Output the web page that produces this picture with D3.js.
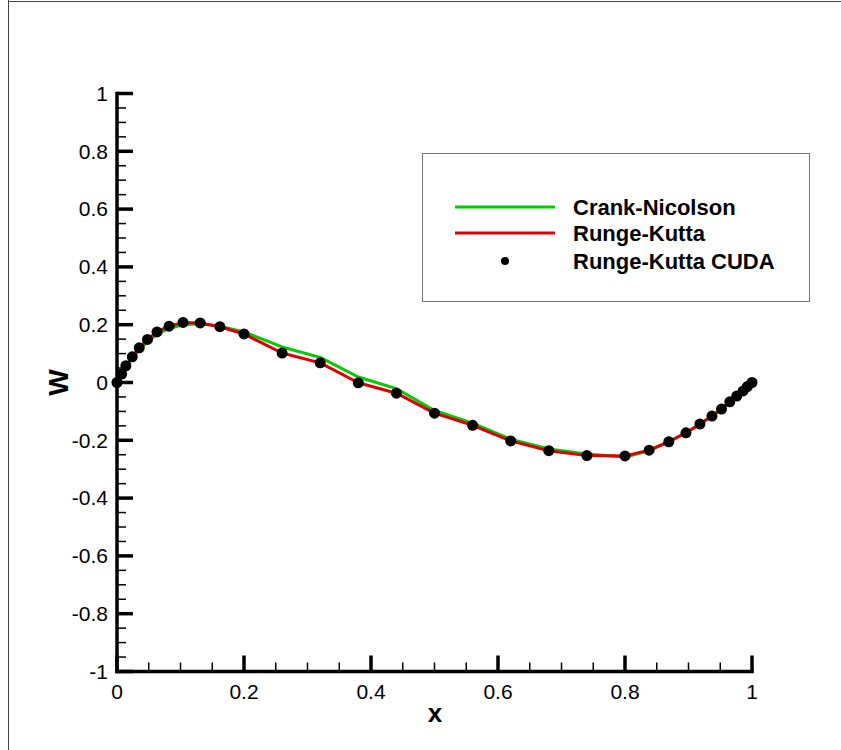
<!DOCTYPE html>
<html>
<head>
<meta charset="utf-8">
<script src="https://cdn.jsdelivr.net/npm/d3@7/dist/d3.min.js"></script>
<style>
  html, body { margin: 0; padding: 0; background: #fff; }
  svg { display: block; }
</style>
</head>
<body>
<svg id="chart" width="841" height="750"></svg>
<script>
// Grid is stretched toward both walls; W.
const xs = [0, 0.0074, 0.014, 0.024, 0.035, 0.048, 0.063, 0.082, 0.104, 0.131, 0.162,
            0.2, 0.26, 0.32, 0.38, 0.44, 0.5, 0.56, 0.62, 0.68, 0.74, 0.8,
            0.838, 0.869, 0.896, 0.918, 0.937, 0.952, 0.965, 0.976, 0.986, 0.9926, 1];

const crankNicolson = [0, 0.027, 0.054, 0.084, 0.113, 0.141, 0.167, 0.187, 0.200, 0.203, 0.195,
                       0.175, 0.123, 0.087, 0.019, -0.021, -0.097, -0.141, -0.196, -0.230, -0.247, -0.258,
                       -0.236, -0.205, -0.174, -0.144, -0.116, -0.092, -0.067, -0.047, -0.029, -0.014, 0];

const rungeKutta = [0, 0.029, 0.058, 0.089, 0.120, 0.149, 0.175, 0.195, 0.208, 0.206, 0.193,
                    0.168, 0.102, 0.068, -0.001, -0.037, -0.106, -0.148, -0.202, -0.236, -0.253, -0.254,
                    -0.234, -0.205, -0.174, -0.144, -0.116, -0.092, -0.067, -0.047, -0.029, -0.014, 0];

const rungeKuttaCuda = [0, 0.029, 0.058, 0.089, 0.120, 0.149, 0.175, 0.195, 0.208, 0.206, 0.193,
                        0.168, 0.102, 0.068, -0.001, -0.037, -0.106, -0.148, -0.202, -0.236, -0.253, -0.254,
                        -0.234, -0.205, -0.174, -0.144, -0.116, -0.092, -0.067, -0.047, -0.029, -0.014, 0];

const xTicks = [0, 0.2, 0.4, 0.6, 0.8, 1];
const yTicks = [-1, -0.8, -0.6, -0.4, -0.2, 0, 0.2, 0.4, 0.6, 0.8, 1];

const legendItems = [
  { label: "Crank-Nicolson",    kind: "line", color: "#00cc00" },
  { label: "Runge-Kutta",       kind: "line", color: "#dd0000" },
  { label: "Runge-Kutta CUDA",  kind: "dot",  color: "#000" },
];

const FONT = "Liberation Sans, Arial, Helvetica, sans-serif";
const svg = d3.select("#chart");

const plotL = 117, plotR = 752, plotT = 93.5, plotB = 671.5;
const x = d3.scaleLinear().domain([0, 1]).range([plotL, plotR]);
const y = d3.scaleLinear().domain([-1, 1]).range([plotB, plotT]);

// frame round the figure
svg.append("line").attr("x1", 8.5).attr("x2", 8.5).attr("y1", 0).attr("y2", 750)
  .attr("stroke", "#444").attr("stroke-width", 1);
svg.append("line").attr("x1", 8).attr("x2", 841).attr("y1", 1.5).attr("y2", 1.5)
  .attr("stroke", "#444").attr("stroke-width", 1);

// ticks, pointing into the plot
const minorX = d3.range(0, 1.0001, 0.05);
const minorY = d3.range(-1, 1.0001, 0.05);

const tickG = svg.append("g").attr("stroke", "#000");
tickG.append("g").selectAll("line").data(minorX).join("line")
  .attr("x1", d => x(d)).attr("x2", d => x(d))
  .attr("y1", plotB).attr("y2", plotB - 9).attr("stroke-width", 1.5);
tickG.append("g").selectAll("line").data(xTicks).join("line")
  .attr("x1", d => x(d)).attr("x2", d => x(d))
  .attr("y1", plotB).attr("y2", plotB - 16).attr("stroke-width", 3.5);
tickG.append("g").selectAll("line").data(minorY).join("line")
  .attr("y1", d => y(d)).attr("y2", d => y(d))
  .attr("x1", plotL).attr("x2", plotL + 9).attr("stroke-width", 1.5);
tickG.append("g").selectAll("line").data(yTicks).join("line")
  .attr("y1", d => y(d)).attr("y2", d => y(d))
  .attr("x1", plotL).attr("x2", plotL + 16).attr("stroke-width", 3.5);

// axis lines
svg.append("line").attr("x1", plotL).attr("x2", plotL).attr("y1", plotT - 1.75).attr("y2", plotB + 1.75)
  .attr("stroke", "#000").attr("stroke-width", 3.5);
svg.append("line").attr("x1", plotL - 1.75).attr("x2", plotR + 1.75).attr("y1", plotB).attr("y2", plotB)
  .attr("stroke", "#000").attr("stroke-width", 3.5);

// tick labels
svg.append("g").selectAll("text").data(xTicks).join("text")
  .attr("x", d => x(d)).attr("y", plotB + 27)
  .attr("text-anchor", "middle")
  .attr("font-family", FONT).attr("font-size", 21)
  .text(d => d3.format("~g")(d));
svg.append("g").selectAll("text").data(yTicks).join("text")
  .attr("x", plotL - 9).attr("y", d => y(d)).attr("dy", "0.35em")
  .attr("text-anchor", "end")
  .attr("font-family", FONT).attr("font-size", 21)
  .text(d => d3.format("~g")(d).replace("−", "-"));

// axis titles
svg.append("text").attr("x", 435).attr("y", 722)
  .attr("text-anchor", "middle").attr("font-family", FONT)
  .attr("font-size", 26).attr("font-weight", "bold").text("x");
svg.append("text").attr("transform", "translate(68,382.5) rotate(-90)")
  .attr("text-anchor", "middle").attr("font-family", FONT)
  .attr("font-size", 28).attr("font-weight", "bold").text("W");

// curves
const line = d3.line().x(d => x(d[0])).y(d => y(d[1]));
svg.append("path").datum(d3.zip(xs, crankNicolson)).attr("d", line)
  .attr("fill", "none").attr("stroke", legendItems[0].color).attr("stroke-width", 3)
  .attr("stroke-linejoin", "round");
svg.append("path").datum(d3.zip(xs, rungeKutta)).attr("d", line)
  .attr("fill", "none").attr("stroke", legendItems[1].color).attr("stroke-width", 3)
  .attr("stroke-linejoin", "round");
svg.append("g").selectAll("circle").data(d3.zip(xs, rungeKuttaCuda)).join("circle")
  .attr("cx", d => x(d[0])).attr("cy", d => y(d[1])).attr("r", 5.5)
  .attr("fill", "#000");

// legend
const lg = svg.append("g");
lg.append("rect").attr("x", 422.5).attr("y", 153.5).attr("width", 387).attr("height", 148)
  .attr("fill", "#fff").attr("stroke", "#777").attr("stroke-width", 1);
const rowY = [207, 233, 261];
legendItems.forEach((item, i) => {
  if (item.kind === "line") {
    lg.append("line").attr("x1", 455).attr("x2", 555).attr("y1", rowY[i]).attr("y2", rowY[i])
      .attr("stroke", item.color).attr("stroke-width", 3);
  } else {
    lg.append("circle").attr("cx", 505).attr("cy", rowY[i]).attr("r", 4).attr("fill", item.color);
  }
  lg.append("text").attr("x", 573).attr("y", rowY[i]).attr("dy", "0.36em")
    .attr("font-family", FONT).attr("font-size", 22).attr("font-weight", "bold")
    .text(item.label);
});
</script>
</body>
</html>
